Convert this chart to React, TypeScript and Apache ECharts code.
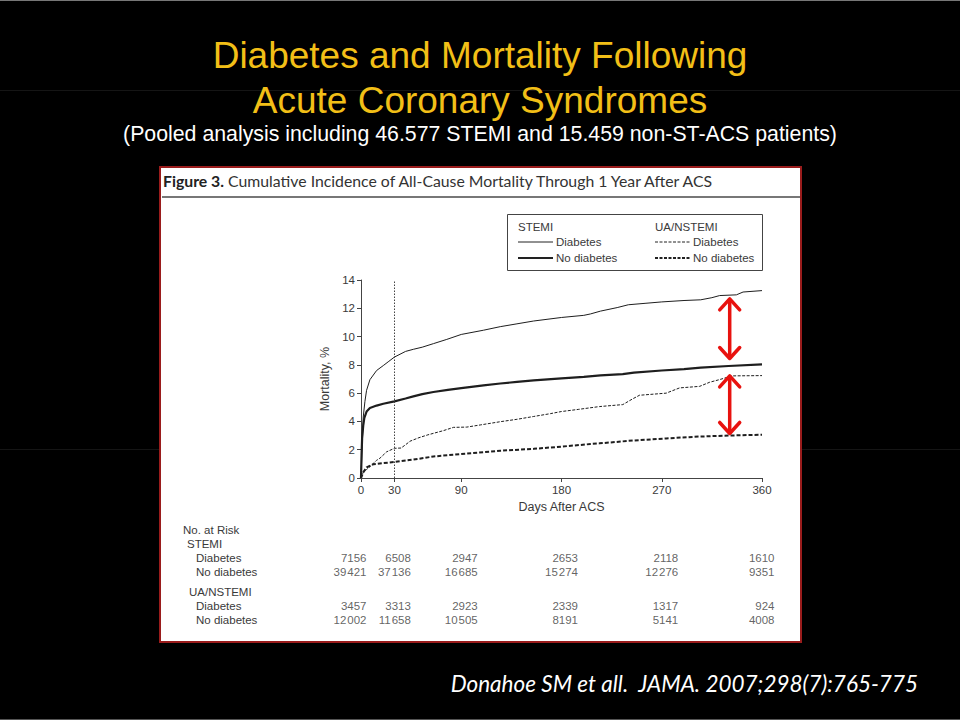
import React, { useEffect, useRef } from "react";
import * as echarts from "echarts";

const titleLines = ["Diabetes and Mortality Following", "Acute Coronary Syndromes"];
const subtitle = "(Pooled analysis including 46.577 STEMI and 15.459 non-ST-ACS patients)";
const figureLabel = "Figure 3.";
const figureTitle = "Cumulative Incidence of All-Cause Mortality Through 1 Year After ACS";
const citation = "Donahoe SM et all.  JAMA. 2007;298(7):765-775";

const xTickValues = [0, 30, 90, 180, 270, 360];
const yAxisName = "Mortality, %";
const xAxisName = "Days After ACS";

const legendGroups = ["STEMI", "UA/NSTEMI"];
const legendRows = ["Diabetes", "No diabetes"];

const stemiDiabetes: [number, number][] = [
  [0, 0], [1, 2.2], [2, 4.3], [3.5, 5.4], [5, 6.2], [8, 6.95], [14, 7.6], [20, 7.95], [25, 8.25],
  [30, 8.55], [40, 8.95], [47, 9.1], [55, 9.25], [65, 9.5], [77, 9.8], [90, 10.15], [110, 10.45],
  [125, 10.7], [140, 10.9], [155, 11.1], [180, 11.35], [200, 11.5], [206, 11.6], [215, 11.8],
  [230, 12.05], [240, 12.25], [255, 12.35], [270, 12.45], [290, 12.55], [305, 12.6], [315, 12.75],
  [322, 12.9], [337, 12.95], [343, 13.15], [360, 13.25],
];
const stemiNoDiabetes: [number, number][] = [
  [0, 0], [0.5, 1.6], [1, 2.8], [2, 3.7], [3, 4.25], [5, 4.7], [8, 4.95], [14, 5.12], [20, 5.25],
  [30, 5.42], [40, 5.62], [47, 5.77], [55, 5.93], [65, 6.08], [78, 6.23], [90, 6.35], [110, 6.55],
  [125, 6.68], [140, 6.8], [155, 6.9], [180, 7.05], [200, 7.15], [215, 7.25], [235, 7.35],
  [245, 7.45], [270, 7.6], [290, 7.7], [305, 7.8], [330, 7.92], [360, 8.03],
];
const uaDiabetes: [number, number][] = [
  [0, 0], [2, 0.4], [5, 0.6], [8, 0.8], [14, 1.25], [17, 1.4], [23, 1.85], [30, 2.1], [36, 2.12],
  [40, 2.35], [44, 2.6], [52, 2.85], [60, 3.05], [74, 3.35], [83, 3.58], [95, 3.6], [107, 3.75],
  [125, 3.98], [140, 4.15], [155, 4.35], [170, 4.55], [180, 4.7], [195, 4.85], [214, 5.05],
  [235, 5.19], [244, 5.6], [250, 5.85], [274, 6.0], [286, 6.37], [304, 6.48], [313, 6.77],
  [322, 6.96], [333, 7.22], [360, 7.24],
];
const uaNoDiabetes: [number, number][] = [
  [0, 0], [2, 0.4], [5, 0.75], [11, 0.97], [20, 1.05], [30, 1.13], [47, 1.3], [65, 1.52],
  [90, 1.7], [125, 1.93], [155, 2.06], [180, 2.22], [206, 2.4], [214, 2.45], [244, 2.65],
  [274, 2.8], [304, 2.93], [330, 3.0], [360, 3.06],
];

// mortality gap arrows: [day, top %, bottom %]
const gapArrows: [number, number, number][] = [
  [331, 12.67, 8.45],
  [331, 7.22, 3.15],
];

const riskDays = [0, 30, 90, 180, 270, 360];
const riskStemiDiabetes = [7156, 6508, 2947, 2653, 2118, 1610];
const riskStemiNoDiabetes = [39421, 37136, 16685, 15274, 12276, 9351];
const riskUaDiabetes = [3457, 3313, 2923, 2339, 1317, 924];
const riskUaNoDiabetes = [12002, 11658, 10505, 8191, 5141, 4008];
const riskLabels = ["No. at Risk", "STEMI", "Diabetes", "No diabetes", "UA/NSTEMI", "Diabetes", "No diabetes"];

const FIG_FONT = "'Liberation Sans', Arial, sans-serif";
const INK = "#3a3a3a";

function fmt(n: number): string {
  const s = String(n);
  return s.length > 4 ? s.slice(0, s.length - 3) + "\u200A" + s.slice(-3) : s;
}

export default function App() {
  const ref = useRef<HTMLDivElement>(null);

  useEffect(() => {
    document.body.style.margin = "0";
    document.body.style.background = "#000";
    const chart = echarts.init(ref.current!, undefined, { renderer: "svg" });

    // layout (pixels)
    const riskLabelX = [183, 187, 196, 196, 189, 196, 196];
    const riskLabelY = [530, 544, 558, 572, 592, 606, 620];
    const riskRowOffsets = [28, 42, 76, 90]; // relative to table top 530
    const riskColNudge = [6, 17, 17, 17, 17, 13]; // right edge past each day tick
    const riskRows = [riskStemiDiabetes, riskStemiNoDiabetes, riskUaDiabetes, riskUaNoDiabetes];

    const tableData: any[] = [];
    riskRows.forEach((row, r) => {
      row.forEach((v, c) =>
        tableData.push({
          value: [riskDays[c], riskRowOffsets[r], v],
          label: { offset: [riskColNudge[c], 0] },
        })
      );
    });

    const txt = (text: string, x: number, y: number, opts: any = {}) => ({
      type: "text",
      x,
      y,
      z: 5,
      style: {
        text,
        fill: opts.fill || INK,
        fontSize: opts.fontSize || 11,
        fontFamily: opts.fontFamily || FIG_FONT,
        fontWeight: opts.fontWeight || "normal",
        fontStyle: opts.fontStyle || "normal",
        textAlign: opts.align || "left",
        align: opts.align || "left",
        textVerticalAlign: "middle",
        verticalAlign: "middle",
      },
    });

    const legendX = [518, 655];
    const legendLineStyles = [
      [{ lineWidth: 1, lineDash: null }, { lineWidth: 2, lineDash: null }],
      [{ lineWidth: 1, lineDash: [3, 1.5] }, { lineWidth: 2, lineDash: [3, 1.5] }],
    ];
    const legendEls: any[] = [
      {
        type: "rect",
        z: 4,
        shape: { x: 507.5, y: 214.5, width: 255, height: 56 },
        style: { fill: "#fff", stroke: "#444", lineWidth: 1 },
      },
    ];
    legendGroups.forEach((g, gi) => {
      legendEls.push(txt(g, legendX[gi], 226.5, { fontSize: 11.5 }));
      legendRows.forEach((r, ri) => {
        const y = 242 + ri * 16;
        const ls = legendLineStyles[gi][ri];
        legendEls.push({
          type: "line",
          z: 5,
          shape: { x1: legendX[gi], y1: y, x2: legendX[gi] + 35, y2: y },
          style: { stroke: "#222", lineWidth: ls.lineWidth, lineDash: ls.lineDash },
        });
        legendEls.push(txt(r, legendX[gi] + 38, y, { fontSize: 11.5 }));
      });
    });

    const lineSeries = (name: string, data: [number, number][], width: number, dash: any) => ({
      type: "line",
      name,
      data,
      xAxisIndex: 0,
      yAxisIndex: 0,
      symbol: "none",
      smooth: false,
      lineStyle: { color: "#1e1e1e", width, type: dash },
      z: 3,
    });

    chart.setOption({
      animation: false,
      backgroundColor: "#000",
      graphic: [
        { type: "line", shape: { x1: 0, y1: 0.5, x2: 960, y2: 0.5 }, style: { stroke: "#777", lineWidth: 1 } },
        { type: "line", shape: { x1: 0, y1: 719.5, x2: 960, y2: 719.5 }, style: { stroke: "#555", lineWidth: 1 } },
        { type: "line", shape: { x1: 0, y1: 90.5, x2: 960, y2: 90.5 }, style: { stroke: "#151515", lineWidth: 1 } },
        { type: "line", shape: { x1: 0, y1: 449.5, x2: 960, y2: 449.5 }, style: { stroke: "#151515", lineWidth: 1 } },
        txt(titleLines[0], 480, 55, { fill: "#f2bf17", fontSize: 37, align: "center" }),
        txt(titleLines[1], 480, 100, { fill: "#f2bf17", fontSize: 37, align: "center" }),
        txt(subtitle, 480, 134, { fill: "#ffffff", fontSize: 21.3, align: "center" }),
        {
          type: "rect",
          z: 0,
          shape: { x: 160, y: 167, width: 641, height: 475 },
          style: { fill: "#ffffff", stroke: "#9a1c1c", lineWidth: 2 },
        },
        {
          type: "text",
          x: 163,
          y: 180,
          z: 5,
          style: {
            text: "{b|" + figureLabel + "} " + figureTitle,
            fill: "#333",
            fontSize: 15.8,
            fontFamily: "Lato, 'Open Sans', sans-serif",
            textVerticalAlign: "middle",
            verticalAlign: "middle",
            rich: { b: { fontWeight: "bold", fontSize: 15.8, fontFamily: "Lato, 'Open Sans', sans-serif", fill: "#222" } },
          },
        },
        { type: "line", z: 5, shape: { x1: 162, y1: 197, x2: 800, y2: 197 }, style: { stroke: "#777", lineWidth: 2 } },
        ...legendEls,
        ...riskLabels.map((l, i) => txt(l, riskLabelX[i], riskLabelY[i], { fontSize: 11.5 })),
        txt(citation, 918, 683, { fill: "#ffffff", fontSize: 22.5, fontStyle: "italic", align: "right", fontFamily: "Lato, 'Open Sans', sans-serif" }),
      ],
      grid: [
        { left: 361, right: 198, top: 280, height: 198, containLabel: false },
        { left: 361, right: 198, top: 530, height: 90, containLabel: false },
      ],
      xAxis: [
        {
          type: "value",
          gridIndex: 0,
          min: 0,
          max: 360,
          name: xAxisName,
          nameLocation: "middle",
          nameGap: 22,
          nameTextStyle: { color: INK, fontSize: 12.5, fontFamily: FIG_FONT },
          axisLine: { show: true, lineStyle: { color: "#444", width: 1 } },
          axisTick: { show: true, length: 4, customValues: xTickValues, lineStyle: { color: "#444" } },
          axisLabel: { customValues: xTickValues, color: INK, fontSize: 11.5, fontFamily: FIG_FONT, margin: 6 },
          splitLine: { show: false },
        },
        { type: "value", gridIndex: 1, min: 0, max: 360, show: false },
      ],
      yAxis: [
        {
          type: "value",
          gridIndex: 0,
          min: 0,
          max: 14,
          interval: 2,
          name: yAxisName,
          nameLocation: "middle",
          nameGap: 30,
          nameRotate: 90,
          nameTextStyle: { color: INK, fontSize: 12.5, fontFamily: FIG_FONT },
          axisLine: { show: true, lineStyle: { color: "#444", width: 1 } },
          axisTick: { show: true, length: 4, lineStyle: { color: "#444" } },
          axisLabel: { color: INK, fontSize: 11.5, fontFamily: FIG_FONT, margin: 6 },
          splitLine: { show: false },
        },
        { type: "value", gridIndex: 1, min: 0, max: 90, inverse: true, show: false },
      ],
      series: [
        {
          ...lineSeries("STEMI Diabetes", stemiDiabetes, 1, "solid"),
          markLine: {
            silent: true,
            symbol: "none",
            label: { show: false },
            lineStyle: { color: "#444", width: 1, type: [1.5, 1.5] },
            data: [{ xAxis: 30 }],
          },
        },
        lineSeries("STEMI No diabetes", stemiNoDiabetes, 2.2, "solid"),
        lineSeries("UA/NSTEMI Diabetes", uaDiabetes, 1, [3, 1.5]),
        lineSeries("UA/NSTEMI No diabetes", uaNoDiabetes, 2, [4, 2]),
        {
          type: "custom",
          xAxisIndex: 0,
          yAxisIndex: 0,
          z: 6,
          data: gapArrows,
          encode: { x: 0, y: [1, 2] },
          renderItem: (_p: any, api: any) => {
            const x = api.value(0);
            const p1 = api.coord([x, api.value(1)]);
            const p2 = api.coord([x, api.value(2)]);
            const hw = 10;
            const hh = 11;
            const style = { stroke: "#e8120f", lineWidth: 3.5, fill: null, lineCap: "round", lineJoin: "round" };
            return {
              type: "group",
              children: [
                { type: "line", shape: { x1: p1[0], y1: p1[1] + 1, x2: p2[0], y2: p2[1] - 1 }, style },
                { type: "polyline", shape: { points: [[p1[0] - hw, p1[1] + hh], [p1[0], p1[1]], [p1[0] + hw, p1[1] + hh]] }, style },
                { type: "polyline", shape: { points: [[p2[0] - hw, p2[1] - hh], [p2[0], p2[1]], [p2[0] + hw, p2[1] - hh]] }, style },
              ],
            };
          },
        },
        {
          type: "scatter",
          xAxisIndex: 1,
          yAxisIndex: 1,
          data: tableData,
          symbolSize: 1,
          itemStyle: { color: "rgba(0,0,0,0)" },
          label: {
            show: true,
            position: "left",
            distance: 0,
            formatter: (p: any) => fmt(p.value[2]),
            color: INK,
            fontSize: 11.5,
            fontFamily: FIG_FONT,
          },
          silent: true,
        },
      ],
    });

    return () => chart.dispose();
  }, []);

  return <div ref={ref} style={{ position: "fixed", left: 0, top: 0, width: 960, height: 720 }} />;
}
